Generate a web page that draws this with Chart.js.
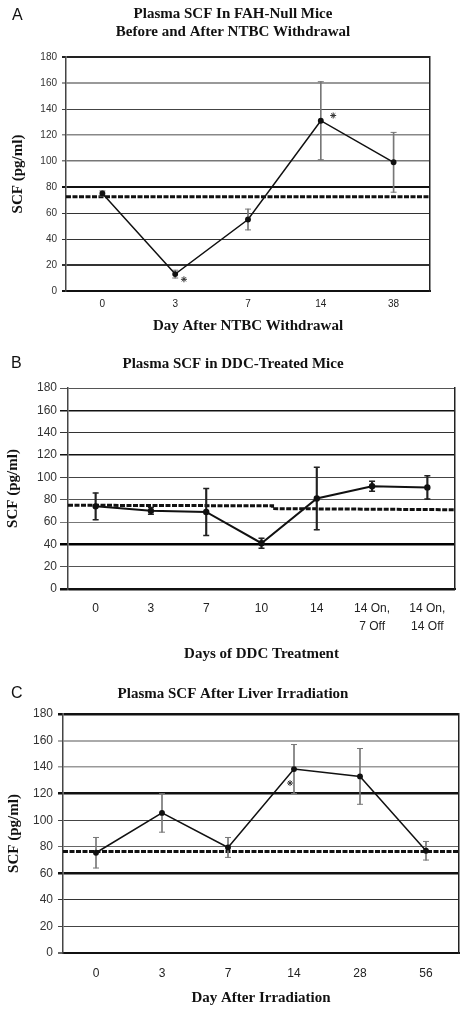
<!DOCTYPE html>
<html>
<head>
<meta charset="utf-8">
<script src="https://cdn.jsdelivr.net/npm/chart.js@4.4.1/dist/chart.umd.min.js"></script>
<style>
  body { margin: 0; background: #fff; width: 466px; height: 1012px; position: relative; overflow: hidden; }
  .panel { position: absolute; left: 0; width: 466px; }
  .letter { position: absolute; font: 16px "Liberation Sans", Arial, sans-serif; color: #111; }
</style>
</head>
<body>
<div class="panel" style="top:0"><canvas id="chartA" width="466" height="338"></canvas></div>
<div class="panel" style="top:340px"><canvas id="chartB" width="466" height="325"></canvas></div>
<div class="panel" style="top:665px"><canvas id="chartC" width="466" height="347"></canvas></div>
<div class="letter" style="left:12px;top:6px">A</div>
<div class="letter" style="left:11px;top:354px">B</div>
<div class="letter" style="left:11px;top:684px">C</div>
<script>
// ---- panel A ----
const daysA = ['0', '3', '7', '14', '38'];
const scfA = [75, 13, 55, 131, 99];
const errA = [2, 3, 8, 30, 23];
const refXA = [-0.5, 4.5];
const refYA = [72.5, 72.5];
const starXA = [1.12, 3.17];
const starYA = [9, 135];

// ---- panel B ----
const daysB = ['0', '3', '7', '10', '14', ['14 On,', '7 Off'], ['14 On,', '14 Off']];
const scfB = [74, 70, 69, 41, 81, 92, 91];
const errB = [12, 3, 21, 4.5, 28, 4.5, 10.5];
const refXB = [-0.5, 3.2, 3.2, 6.5];
const refYB = [75, 74.5, 72, 71];

// ---- panel C ----
const daysC = ['0', '3', '7', '14', '28', '56'];
const scfC = [75.5, 105.5, 79.5, 138.5, 133, 77];
const errC = [11.5, 14.5, 7.5, 18.5, 21, 7];
const refXC = [-0.5, 5.5];
const refYC = [76.5, 76.5];
const starXC = [2.94];
const starYC = [128];

const yTicks = [0, 20, 40, 60, 80, 100, 120, 140, 160, 180];

const serif = '"Liberation Serif", "Times New Roman", serif';
const sans = '"Liberation Sans", Arial, sans-serif';

function zip(xs, ys) {
  return xs.map((x, i) => ({ x: x, y: ys[i] }));
}

function buildPanel(id, p) {
  const n = p.labels.length;
  const datasets = [
    {
      type: 'line', label: 'reference', xAxisID: 'xr',
      data: zip(p.refX, p.refY),
      borderColor: '#111', borderWidth: 3, borderDash: [5, 1.5],
      pointRadius: 0, order: 6
    },
    {
      type: 'bar', label: 'error',
      data: p.values.map((v, i) => [v - p.errors[i], v + p.errors[i]]),
      backgroundColor: p.errColor, borderWidth: 0,
      barThickness: p.errWidth, grouped: false, order: 5
    },
    {
      type: 'line', label: 'capLow', showLine: false,
      data: p.values.map((v, i) => v - p.errors[i]),
      pointStyle: 'line', pointRadius: 3, borderWidth: p.errWidth,
      borderColor: p.errColor, order: 4
    },
    {
      type: 'line', label: 'capHigh', showLine: false,
      data: p.values.map((v, i) => v + p.errors[i]),
      pointStyle: 'line', pointRadius: 3, borderWidth: p.errWidth,
      borderColor: p.errColor, order: 4
    },
    {
      type: 'line', label: 'SCF',
      data: p.values,
      borderColor: '#111', borderWidth: p.lineWidth, tension: 0,
      pointRadius: 2.2, pointBackgroundColor: '#111', pointBorderColor: '#111',
      order: 1
    }
  ];
  if (p.starX) {
    datasets.push({
      type: 'scatter', label: 'star', xAxisID: 'xr',
      data: zip(p.starX, p.starY),
      pointStyle: 'star', pointRadius: 3, borderWidth: 1,
      borderColor: '#333', order: 0
    });
  }

  return new Chart(document.getElementById(id), {
    type: 'line',
    data: { labels: p.labels, datasets: datasets },
    options: {
      responsive: false,
      animation: false,
      layout: { padding: 0 },
      plugins: {
        legend: { display: false },
        tooltip: { enabled: false },
        title: {
          display: true,
          text: p.title,
          color: '#111',
          font: { family: serif, size: 15, weight: 'bold', lineHeight: 1.2 },
          padding: { top: p.titleTop, bottom: p.titleBottom }
        }
      },
      scales: {
        x: {
          type: 'category',
          offset: true,
          grid: { display: false, drawTicks: false },
          border: { display: true, color: '#111', width: 2 },
          ticks: {
            color: '#222',
            padding: p.xTickPad,
            maxRotation: 0,
            autoSkip: false,
            font: { family: sans, size: p.tickSize, lineHeight: p.xLineHeight }
          },
          title: {
            display: true,
            text: p.xTitle,
            color: '#111',
            font: { family: serif, size: 15, weight: 'bold', lineHeight: 1.2 },
            padding: { top: 0, bottom: p.xTitlePad }
          },
          afterFit: (s) => { s.height = p.xHeight; }
        },
        xr: {
          type: 'linear', display: false, min: -0.5, max: n - 0.5
        },
        y: {
          min: 0, max: 180,
          afterBuildTicks: (s) => { s.ticks = yTicks.map(v => ({ value: v })); },
          grid: {
            color: (c) => (p.grid[c.tick.value] || ['#333', 1])[0],
            lineWidth: (c) => (p.grid[c.tick.value] || ['#333', 1])[1],
            tickLength: p.tickLen,
            drawTicks: true
          },
          border: { display: true, color: '#444', width: 1.5 },
          ticks: {
            color: '#333',
            padding: p.yTickPad,
            font: { family: sans, size: p.tickSize }
          },
          title: {
            display: true,
            text: 'SCF (pg/ml)',
            color: '#111',
            font: { family: serif, size: 15, weight: 'bold', lineHeight: 1.2 },
            padding: { top: p.yTitlePad, bottom: 0 }
          },
          afterFit: (s) => { s.width = p.yWidth; }
        },
        yr: {
          position: 'right', min: 0, max: 180,
          ticks: { display: false },
          grid: { drawOnChartArea: false, drawTicks: false },
          border: { display: true, color: '#222', width: 1.5 },
          afterFit: (s) => { s.width = p.padRight; }
        }
      }
    }
  });
}

buildPanel('chartA', {
  labels: daysA, values: scfA, errors: errA,
  refX: refXA, refY: refYA, starX: starXA, starY: starYA,
  title: ['Plasma SCF In FAH-Null Mice', 'Before and After NTBC Withdrawal'],
  xTitle: 'Day After NTBC Withdrawal',
  titleTop: 5, titleBottom: 16,
  padRight: 36, yWidth: 66, xHeight: 47,
  tickSize: 10, xLineHeight: 1.2, xTickPad: 7, xTitlePad: 3,
  tickLen: 4, yTickPad: 5, yTitlePad: 9,
  errColor: '#777', errWidth: 1, lineWidth: 1.5,
  grid: {
    180: ['#222', 2], 160: ['#999', 2], 140: ['#444', 1], 120: ['#888', 1.5],
    100: ['#777', 1.5], 80: ['#111', 2], 60: ['#333', 1], 40: ['#333', 1],
    20: ['#333', 2], 0: ['#111', 2]
  }
});

buildPanel('chartB', {
  labels: daysB, values: scfB, errors: errB,
  refX: refXB, refY: refYB,
  title: 'Plasma SCF in DDC-Treated Mice',
  xTitle: 'Days of DDC Treatment',
  titleTop: 15, titleBottom: 15,
  padRight: 11, yWidth: 68, xHeight: 76,
  tickSize: 12, xLineHeight: 1.5, xTickPad: 11, xTitlePad: 2,
  tickLen: 8, yTickPad: 3, yTitlePad: 4,
  errColor: '#222', errWidth: 1.5, lineWidth: 2,
  grid: {
    180: ['#555', 1], 160: ['#111', 1.5], 140: ['#333', 1], 120: ['#111', 1.5],
    100: ['#444', 1], 80: ['#555', 1], 60: ['#777', 1], 40: ['#000', 2.5],
    20: ['#555', 1], 0: ['#111', 2.5]
  }
});

buildPanel('chartC', {
  labels: daysC, values: scfC, errors: errC,
  refX: refXC, refY: refYC, starX: starXC, starY: starYC,
  title: 'Plasma SCF After Liver Irradiation',
  xTitle: 'Day After Irradiation',
  titleTop: 20, titleBottom: 11,
  padRight: 7, yWidth: 63, xHeight: 59,
  tickSize: 12, xLineHeight: 1.2, xTickPad: 13, xTitlePad: 5,
  tickLen: 5, yTickPad: 5, yTitlePad: 5,
  errColor: '#777', errWidth: 1, lineWidth: 1.5,
  grid: {
    180: ['#111', 2.5], 160: ['#aaa', 2], 140: ['#999', 1.5], 120: ['#111', 2.5],
    100: ['#444', 1], 80: ['#666', 1], 60: ['#111', 2.5], 40: ['#333', 1],
    20: ['#444', 1], 0: ['#666', 2]
  }
});
</script>
</body>
</html>
